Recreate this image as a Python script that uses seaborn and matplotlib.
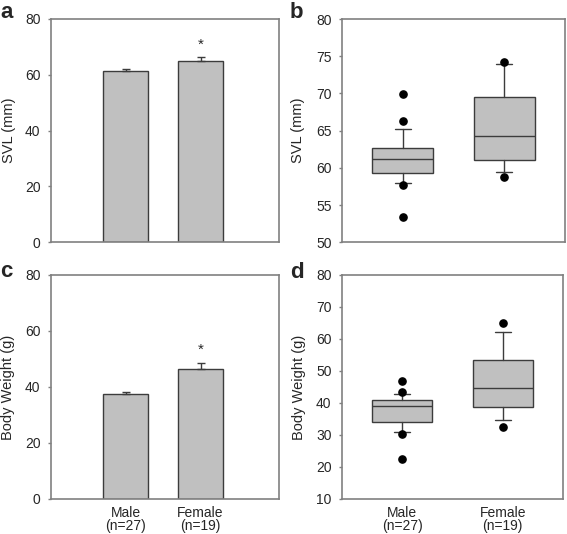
import matplotlib
matplotlib.use("Agg")
import matplotlib.pyplot as plt
import seaborn as sns
import pandas as pd

# groups and tick labels
groups = ["Male", "Female"]
group_labels = ["Male\n(n=27)", "Female\n(n=19)"]

# bar panels: mean and standard error
svl_mean = [61.5, 65.1]
svl_se = [0.6, 1.2]
bw_mean = [37.5, 46.3]
bw_se = [0.8, 2.3]

# box panels: quartiles, 10th/90th percentiles and outliers
svl_q1 = [59.25, 61.0]
svl_med = [61.15, 64.3]
svl_q3 = [62.65, 69.5]
svl_lo = [57.95, 59.4]
svl_hi = [65.2, 73.95]
svl_out = [[69.9, 66.3, 57.7, 53.4], [74.2, 58.8]]

bw_q1 = [34.1, 38.65]
bw_med = [39.0, 44.8]
bw_q3 = [40.9, 53.3]
bw_lo = [31.05, 34.8]
bw_hi = [42.9, 62.3]
bw_out = [[46.9, 43.3, 30.3, 22.6], [64.9, 32.5]]

sns.set_style("white")
plt.rcParams["font.family"] = ["Liberation Sans", "DejaVu Sans"]
plt.rcParams["font.size"] = 10

FILL = "#c0c0c0"
EDGE = "#3c3c3c"
SPINE = "#808080"

W, H = 567, 534
fig = plt.figure(figsize=(W / 100, H / 100), dpi=100)


def axes_px(left, top, right, bottom):
    return fig.add_axes([left / W, 1 - bottom / H, (right - left) / W, (bottom - top) / H])


def style_axes(ax):
    for sp in ax.spines.values():
        sp.set_color(SPINE)
        sp.set_linewidth(1.2)
    ax.tick_params(axis="y", direction="out", length=2.5, width=1, color=SPINE,
                   labelsize=10, pad=5, left=True)
    ax.tick_params(axis="x", length=0, labelsize=10, pad=5)


def bar_panel(ax, means, se):
    df = pd.DataFrame({"group": groups, "value": means})
    sns.barplot(data=df, x="group", y="value", color=FILL, saturation=1,
                width=0.6, edgecolor=EDGE, linewidth=1, errorbar=None, ax=ax)
    ax.errorbar([0, 1], means, yerr=[[0, 0], se], fmt="none", ecolor=EDGE,
                elinewidth=1, capsize=2.9, capthick=1)
    top = means[1] + se[1]
    ax.text(1, top + 4.6, "*", ha="center", va="center", fontsize=11)
    ax.set_ylim(0, 80)
    ax.set_yticks([0, 20, 40, 60, 80])
    ax.set_xlim(-1.0, 2.05)
    ax.set_xlabel("")
    style_axes(ax)


def box_panel(ax, q1, med, q3, lo, hi, out):
    stats = []
    for i in range(2):
        stats.append(dict(q1=q1[i], med=med[i], q3=q3[i], whislo=lo[i],
                          whishi=hi[i], fliers=out[i]))
    ax.bxp(stats, positions=[0, 1], widths=0.6, capwidths=0.16, patch_artist=True,
           boxprops=dict(facecolor=FILL, edgecolor=EDGE, linewidth=1),
           medianprops=dict(color=EDGE, linewidth=1),
           whiskerprops=dict(color=EDGE, linewidth=1),
           capprops=dict(color=EDGE, linewidth=1),
           flierprops=dict(marker="o", markerfacecolor="black",
                           markeredgecolor="black", markersize=5.2))
    ax.set_xlim(-0.6, 1.6)
    style_axes(ax)


ax_a = axes_px(51, 19, 279, 242.3)
ax_b = axes_px(342, 19, 565, 242.3)
ax_c = axes_px(51, 275, 279, 499)
ax_d = axes_px(342, 275, 563, 499)

bar_panel(ax_a, svl_mean, svl_se)
ax_a.set_xticks([0, 1])
ax_a.set_xticklabels(["", ""])
ax_a.set_ylabel("SVL (mm)", fontsize=10.5)
ax_a.yaxis.set_label_coords(-0.155, 0.5)

bar_panel(ax_c, bw_mean, bw_se)
ax_c.set_xticks([0, 1])
ax_c.set_xticklabels(group_labels, linespacing=0.95)
ax_c.set_ylabel("Body Weight (g)", fontsize=10.5)
ax_c.yaxis.set_label_coords(-0.16, 0.5)

box_panel(ax_b, svl_q1, svl_med, svl_q3, svl_lo, svl_hi, svl_out)
ax_b.set_ylim(50, 80)
ax_b.set_yticks([50, 55, 60, 65, 70, 75, 80])
ax_b.set_xticks([0, 1])
ax_b.set_xticklabels(["", ""])
ax_b.set_ylabel("SVL (mm)", fontsize=10.5)
ax_b.yaxis.set_label_coords(-0.165, 0.5)

box_panel(ax_d, bw_q1, bw_med, bw_q3, bw_lo, bw_hi, bw_out)
ax_d.set_ylim(10, 80)
ax_d.set_yticks([10, 20, 30, 40, 50, 60, 70, 80])
ax_d.set_xticks([0, 1])
ax_d.set_xticklabels(group_labels, linespacing=0.95)
ax_d.set_ylabel("Body Weight (g)", fontsize=10.5)
ax_d.yaxis.set_label_coords(-0.165, 0.5)

# panel letters
for letter, x, y in [("a", 0.5, 17.8), ("b", 290, 18.3), ("c", 0.5, 277), ("d", 290, 277.5)]:
    fig.text(x / W, 1 - y / H, letter, fontsize=16, fontweight="bold",
             ha="left", va="baseline")

fig.savefig("out.png", dpi=100)
